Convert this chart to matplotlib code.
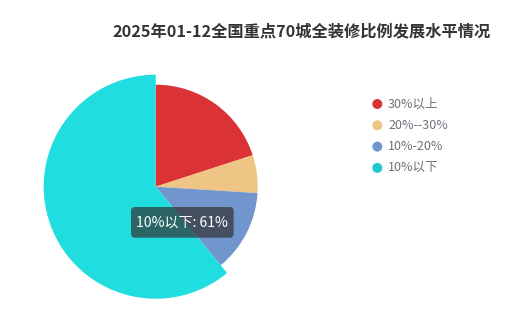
import matplotlib
matplotlib.use("Agg")
import matplotlib.pyplot as plt
from matplotlib.patches import FancyBboxPatch, Circle

plt.rcParams['font.family'] = ['Noto Sans CJK SC', 'DejaVu Sans']

title = "2025年01-12全国重点70城全装修比例发展水平情况"
categories = ["30%以上", "20%--30%", "10%-20%", "10%以下"]
values = [20, 6, 13, 61]
colors = ["#db3236", "#eec584", "#7195cd", "#20dde0"]
legend_colors = ["#db3236", "#eec584", "#7195cd", "#1ec9cc"]
highlight = 3

W, H = 508, 322
fig = plt.figure(figsize=(W / 100, H / 100), dpi=100)
ax = fig.add_axes([0, 0, 1, 1])

cx, cy, r = 155.7, H - 186.7, 102
wedges, _ = ax.pie(values, colors=colors, startangle=90, counterclock=False,
                   center=(cx, cy), radius=r, wedgeprops=dict(linewidth=0))
wedges[highlight].set_radius(r + 10)

ax.set_xlim(0, W)
ax.set_ylim(0, H)
ax.set_aspect('equal')
ax.axis('off')

# title
ax.text(301.5, H - 31, title, ha='center', va='center', fontsize=11.7,
        fontweight='bold', color='#333333')

# legend
ly0, dy = 104, 21.3
for i, (lab, c) in enumerate(zip(categories, legend_colors)):
    y = H - (ly0 + i * dy)
    ax.add_patch(Circle((377.3, y), 5, color=c, lw=0))
    ax.text(388, y, lab, ha='left', va='center', fontsize=9.0, color='#6e7079')

# tooltip
x0, y0, x1, y1 = 131, H - 237.7, 233.7, H - 207
ax.add_patch(FancyBboxPatch((x0, y0), x1 - x0, y1 - y0,
                            boxstyle="round,pad=0,rounding_size=4",
                            fc=(50/255, 50/255, 50/255, 0.7), ec='none'))
ax.text((x0 + x1) / 2, (y0 + y1) / 2,
        f"{categories[highlight]}: {values[highlight]}%",
        ha='center', va='center', fontsize=10.1, color='white')

fig.savefig("out.png", dpi=100)
